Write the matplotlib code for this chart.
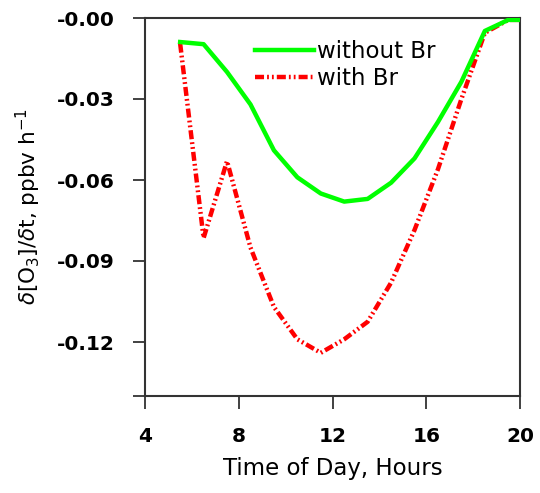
import matplotlib
matplotlib.use("Agg")
import matplotlib.pyplot as plt
from matplotlib.lines import Line2D

hours = [5.5, 6.5, 7.5, 8.5, 9.5, 10.5, 11.5, 12.5, 13.5, 14.5, 15.5, 16.5, 17.5, 18.5, 19.5, 20.0]
without_br = [-0.0089, -0.0097, -0.020, -0.032, -0.049, -0.059, -0.065, -0.068, -0.067,
              -0.061, -0.052, -0.0385, -0.0236, -0.0048, -0.0007, -0.0007]
with_br = [-0.0095, -0.0815, -0.053, -0.085, -0.107, -0.119, -0.124, -0.119, -0.1125,
           -0.098, -0.0785, -0.056, -0.030, -0.0055, -0.0007, -0.0007]

xticks = [4, 8, 12, 16, 20]
yticks = [0.0, -0.03, -0.06, -0.09, -0.12]
ytick_labels = ["-0.00", "-0.03", "-0.06", "-0.09", "-0.12"]

plt.rcParams['font.family'] = ['DejaVu Sans']
plt.rcParams['mathtext.fontset'] = 'dejavusans'
plt.rcParams['lines.scale_dashes'] = False

GREEN = '#00ff00'
RED = '#ff0000'

fig = plt.figure(figsize=(5.40, 4.93), dpi=100)
ax = fig.add_axes([145/540, 1-396/493, 375/540, 378/493])

red_dash = (0, (6.5, 2.2, 1.3, 2.2, 1.3, 2.2))
ax.plot(hours, with_br, color=RED, lw=3.2, linestyle=red_dash, label='with Br', zorder=2)
ax.plot(hours, without_br, color=GREEN, lw=3.2, label='without Br', zorder=3)

ax.set_xlim(4, 20)
ax.set_ylim(-0.14, 0.0)
ax.set_xticks(xticks)
ax.set_xticklabels([str(v) for v in xticks])
ax.set_yticks(yticks)
ax.set_yticklabels(ytick_labels)
ax.set_yticks([-0.14], minor=True)

ax.tick_params(axis='both', which='both', direction='out', length=9, width=1.3,
               color='#333333', pad=13, labelsize=14.5)
for lab in ax.get_xticklabels() + ax.get_yticklabels():
    lab.set_fontweight('bold')

for s in ax.spines.values():
    s.set_linewidth(1.5)
    s.set_color('#333333')

ax.set_xlabel('Time of Day, Hours', fontsize=16.5, labelpad=8)
ax.set_ylabel(r'$\delta$[O$_3$]/$\delta$t, ppbv h$^{-1}$', fontsize=15.5, labelpad=10)

handles = [Line2D([], [], color=GREEN, lw=3.2),
           Line2D([], [], color=RED, lw=3.2, linestyle=red_dash)]
leg = ax.legend(handles, ['without Br', 'with Br'], loc='upper left',
                bbox_to_anchor=(0.25, 0.985), frameon=False, fontsize=16.5,
                handlelength=2.6, handletextpad=0.1, labelspacing=0.18, borderpad=0.2)

fig.savefig('out.png', dpi=100)
